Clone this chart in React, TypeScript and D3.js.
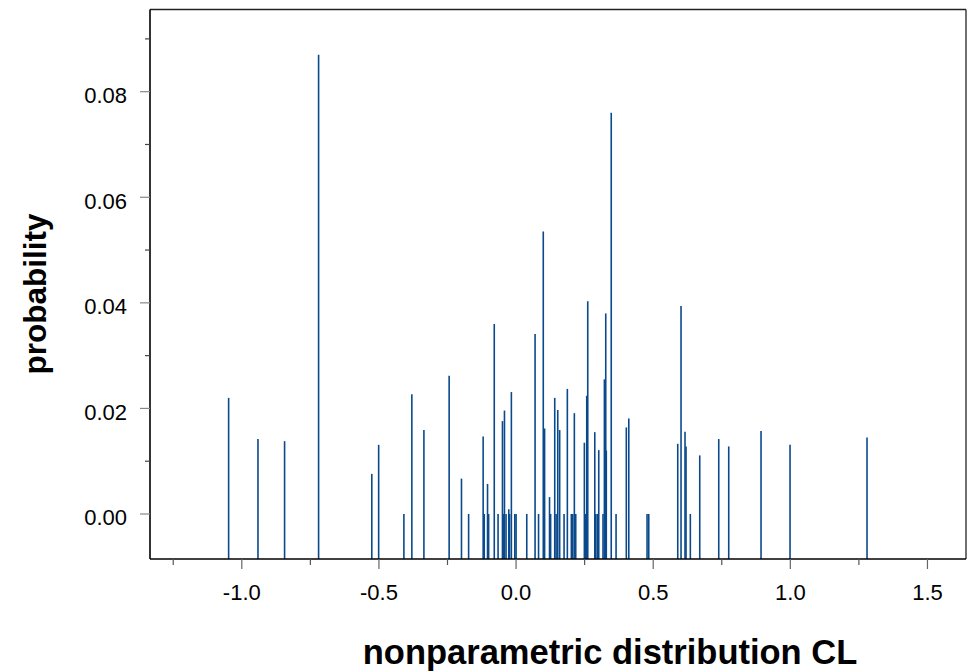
import React from "react";
import * as d3 from "d3";

const cl: number[] = [
  -1.048, -0.941, -0.844, -0.72, -0.526, -0.501, -0.409, -0.38, -0.336, -0.244,
  -0.199, -0.173, -0.12, -0.116, -0.104, -0.1, -0.0795, -0.0656, -0.0496, -0.0463,
  -0.0423, -0.0365, -0.0266, -0.0237, -0.0171, -0.0047, 0.0, 0.039, 0.0693, 0.082,
  0.0992, 0.104, 0.122, 0.126, 0.141, 0.146, 0.152, 0.159, 0.175, 0.187,
  0.2016, 0.2067, 0.2125, 0.2176, 0.249, 0.254, 0.2577, 0.2614, 0.287, 0.2906,
  0.2964, 0.3015, 0.317, 0.322, 0.327, 0.329, 0.347, 0.3646, 0.402, 0.411,
  0.4776, 0.4838, 0.5895, 0.6015, 0.616, 0.6197, 0.6354, 0.6697, 0.739, 0.7754,
  0.8932, 0.9989, 1.2796,
];
const probability: number[] = [
  0.022, 0.0142, 0.0138, 0.087, 0.0076, 0.0131, 0.0, 0.0227, 0.0159, 0.0262,
  0.0067, 0.0, 0.0147, 0.0, 0.0057, 0.0, 0.036, 0.0, 0.0176, 0.0,
  0.0196, 0.0, 0.0009, 0.0, 0.0231, 0.0, 0.0, 0.0, 0.0341, 0.0,
  0.0535, 0.0162, 0.0032, 0.0, 0.022, 0.0, 0.0197, 0.0159, 0.0, 0.0237,
  0.0, 0.0, 0.0191, 0.0, 0.0135, 0.0, 0.0224, 0.0403, 0.0155, 0.0,
  0.0, 0.0121, 0.0, 0.0255, 0.038, 0.012, 0.076, 0.0, 0.0164, 0.0181,
  0.0, 0.0, 0.0133, 0.0394, 0.0156, 0.0128, 0.0, 0.0111, 0.0142, 0.0128,
  0.0157, 0.0131, 0.0145,
];
const xMajorTicks: number[] = [-1.0, -0.5, 0.0, 0.5, 1.0, 1.5];
const xMinorTicks: number[] = [-1.25, -0.75, -0.25, 0.25, 0.75, 1.25];
const yMajorTicks: number[] = [0.0, 0.02, 0.04, 0.06, 0.08];
const yMinorTicks: number[] = [0.01, 0.03, 0.05, 0.07, 0.09];
const xTitle = "nonparametric distribution CL";
const yTitle = "probability";

const W = 968;
const H = 671;
const L = 150, R = 966, T = 9.5, B = 559;

export default function App() {
  const x = d3.scaleLinear().domain([-1.3347, 1.6405]).range([L, R]);
  const y = d3.scaleLinear().domain([-0.008525, 0.09557]).range([B, T]);
  const font = "'Liberation Sans', Arial, Helvetica, sans-serif";
  const data = cl.map((c, i) => ({ c, p: probability[i] }));
  return (
    <svg
      width={W}
      height={H}
      style={{ position: "absolute", left: 0, top: 0, background: "#fff" }}
      fontFamily={font}
    >
      <rect x={0} y={0} width={W} height={H} fill="#fff" />
      {/* spikes */}
      {data.map((d, i) => (
        <line
          key={i}
          x1={x(d.c)}
          x2={x(d.c)}
          y1={B}
          y2={y(d.p)}
          stroke="#0a4a8c"
          strokeWidth={1.6}
        />
      ))}
      {/* frame */}
      <line x1={L} x2={R} y1={T} y2={T} stroke="#222" strokeWidth={1.3} />
      <line x1={R} x2={R} y1={T} y2={B} stroke="#222" strokeWidth={1.3} />
      <line x1={L} x2={L} y1={T} y2={B} stroke="#000" strokeWidth={1.6} />
      <line x1={L} x2={R} y1={B} y2={B} stroke="#000" strokeWidth={1.6} />
      {/* y ticks */}
      {yMajorTicks.map((t) => (
        <g key={"ym" + t}>
          <line x1={L - 10} x2={L} y1={y(t)} y2={y(t)} stroke="#888" strokeWidth={1.2} />
          <text x={L - 23} y={y(t) + 11.5} fontSize={22} textAnchor="end" fill="#000">
            {d3.format(".2f")(t)}
          </text>
        </g>
      ))}
      {yMinorTicks.map((t) => (
        <line key={"yn" + t} x1={L - 5} x2={L} y1={y(t)} y2={y(t)} stroke="#444" strokeWidth={1.2} />
      ))}
      {/* x ticks */}
      {xMajorTicks.map((t) => (
        <g key={"xm" + t}>
          <line x1={x(t)} x2={x(t)} y1={B} y2={B + 10} stroke="#666" strokeWidth={1.2} />
          <text x={x(t)} y={600} fontSize={22} textAnchor="middle" fill="#000">
            {d3.format(".1f")(t).replace("−", "-")}
          </text>
        </g>
      ))}
      {xMinorTicks.map((t) => (
        <line key={"xn" + t} x1={x(t)} x2={x(t)} y1={B} y2={B + 6} stroke="#555" strokeWidth={1.2} />
      ))}
      {/* titles */}
      <text x={610} y={664} fontSize={34.5} fontWeight="bold" textAnchor="middle" fill="#000">
        {xTitle}
      </text>
      <text
        transform={`translate(46,294) rotate(-90)`}
        fontSize={31.5}
        fontWeight="bold"
        textAnchor="middle"
        fill="#000"
      >
        {yTitle}
      </text>
    </svg>
  );
}
